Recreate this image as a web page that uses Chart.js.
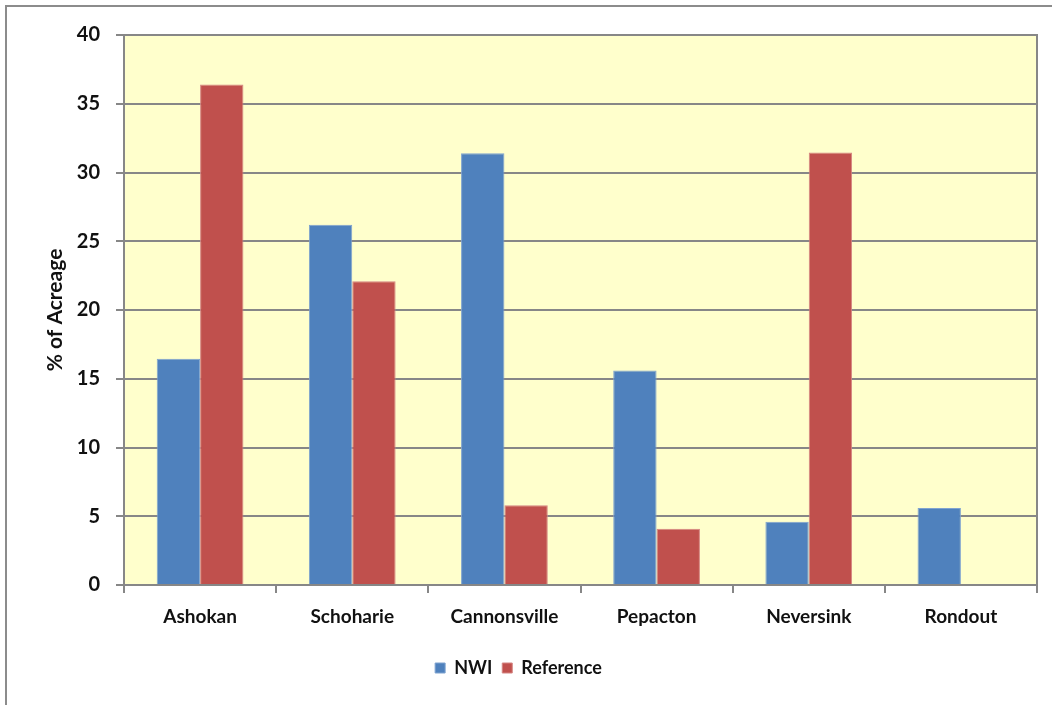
<!DOCTYPE html>
<html>
<head>
<meta charset="utf-8">
<script src="https://cdn.jsdelivr.net/npm/chart.js@4.4.0/dist/chart.umd.min.js"></script>
<style>
    html, body {
        margin: 0;
        padding: 0;
        background: #fff;
        overflow: hidden;
    }
    .frame {
        position: absolute;
        left: 5px;
        top: 5px;
        width: 1060px;
        height: 720px;
        border-left: 2px solid #8c8c8c;
        border-top: 2px solid #8c8c8c;
    }
    .chart-wrap {
        position: absolute;
        left: 0;
        top: 0;
        width: 1052px;
        height: 705px;
    }
</style>
</head>
<body>
<div class="frame"></div>
<div class="chart-wrap">
    <canvas id="myChart"></canvas>
</div>
<script>
// reservoirs and % of acreage per source
const categories = ["Ashokan", "Schoharie", "Cannonsville", "Pepacton", "Neversink", "Rondout"];
const nwiValues = [16.45, 26.2, 31.4, 15.6, 4.6, 5.6];
const referenceValues = [36.4, 22.1, 5.8, 4.1, 31.45, 0];
const yTicks = [0, 5, 10, 15, 20, 25, 30, 35, 40];

const gridGray = "#878787";
const labelFont = { family: "Lato, 'Open Sans', sans-serif", weight: "bold" };

// yellow plot background + right border of the plot area
const plotArea = {
    id: "plotArea",
    beforeDraw(chart) {
        const { ctx, chartArea: a } = chart;
        ctx.save();
        ctx.fillStyle = "#FFFFCC";
        ctx.fillRect(a.left, a.top, a.right - a.left, a.bottom - a.top);
        ctx.restore();
    },
    afterDatasetsDraw(chart) {
        const { ctx, chartArea: a } = chart;
        ctx.save();
        ctx.strokeStyle = gridGray;
        ctx.lineWidth = 2;
        ctx.beginPath();
        ctx.moveTo(a.right, a.top - 1);
        ctx.lineTo(a.right, a.bottom + 8);
        ctx.stroke();
        ctx.restore();
    },
};

const ctx = document.getElementById("myChart").getContext("2d");
const myChart = new Chart(ctx, {
    type: "bar",
    data: {
        labels: categories,
        datasets: [
            {
                label: "NWI",
                data: nwiValues,
                backgroundColor: "#4F81BD",
                borderColor: "#7FA3D0",
                borderWidth: 1,
                categoryPercentage: 0.57,
                barPercentage: 1,
            },
            {
                label: "Reference",
                data: referenceValues,
                backgroundColor: "#C0504D",
                borderColor: "#D58583",
                borderWidth: 1,
                categoryPercentage: 0.57,
                barPercentage: 1,
            },
        ],
    },
    options: {
        responsive: true,
        maintainAspectRatio: false,
        animation: false,
        layout: {
            padding: { top: 35, right: 15, bottom: 18, left: 0 },
        },
        scales: {
            x: {
                grid: {
                    display: true,
                    drawOnChartArea: false,
                    drawTicks: true,
                    tickLength: 8,
                    color: gridGray,
                    lineWidth: 2,
                },
                border: { display: true, color: gridGray, width: 2 },
                ticks: {
                    color: "#111",
                    padding: 12,
                    font: { ...labelFont, size: 19 },
                },
                afterFit: (scale) => {
                    scale.height = 64;
                },
            },
            y: {
                min: 0,
                max: 40,
                afterBuildTicks: (scale) => {
                    scale.ticks = yTicks.map((v) => ({ value: v }));
                },
                grid: {
                    color: gridGray,
                    lineWidth: 2,
                    tickLength: 8,
                },
                border: { display: true, color: gridGray, width: 2 },
                ticks: {
                    color: "#111",
                    padding: 16,
                    font: { ...labelFont, size: 20 },
                },
                title: {
                    display: true,
                    text: "% of Acreage",
                    color: "#111",
                    font: { ...labelFont, size: 21 },
                    padding: { top: 43, bottom: 0 },
                },
                afterFit: (scale) => {
                    scale.width = 124;
                },
            },
        },
        plugins: {
            legend: {
                position: "bottom",
                labels: {
                    color: "#111",
                    boxWidth: 10,
                    boxHeight: 10,
                    padding: 10,
                    font: { ...labelFont, size: 18 },
                },
            },
            tooltip: { enabled: false },
        },
    },
    plugins: [plotArea],
});
</script>
</body>
</html>
